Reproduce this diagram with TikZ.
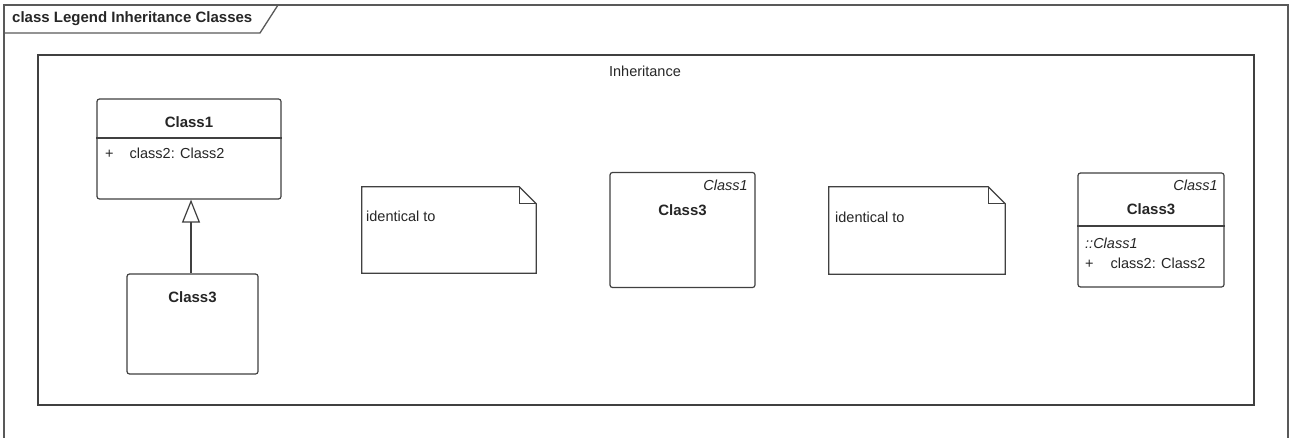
\documentclass[tikz,border=0pt]{standalone}
\usepackage{fontspec}
\setmainfont{Liberation Sans}
\usetikzlibrary{arrows.meta, positioning, calc}

\begin{document}
\begin{tikzpicture}[
    x=1pt, y=-1pt,
    line/.style={draw=black!75, line width=1.2pt},
    frame/.style={draw=black!65, line width=1.3pt},
    classbox/.style={line, rounded corners=2.5pt, fill=white, inner sep=0pt},
    notebox/.style={draw=none, inner sep=0pt},
    txt/.style={inner sep=0pt, text=black!85, font=\fontsize{14.5}{17}\selectfont},
    clsname/.style={txt, font=\fontsize{15}{17}\selectfont\bfseries},
    stereo/.style={txt, font=\fontsize{14.5}{17}\selectfont\itshape},
    gen/.style={line, -{Triangle[open, length=23pt, width=18pt]}}
]
\useasboundingbox (0,0) rectangle (1289,438);

% diagram frame
\draw[frame] (4,445) -- (4,5) -- (1288,5) -- (1288,445);
\draw[frame] (4,33) -- (260,33) -- (278,5);
\node[clsname, anchor=west] (frametitle) at (12,19) {class Legend Inheritance Classes};

% package
\node[line, fill=white, minimum width=1216, minimum height=350] (pkg) at (646,230) {};
\node[txt] (pkgname) at (645,71) {Inheritance};

% Class1 and its child
\node[classbox, minimum width=184, minimum height=100] (c1) at (189,149) {};
\node[clsname] (c1name) at (189,122) {Class1};
\draw[line] (c1.west |- 0,138) -- (c1.east |- 0,138);
\node[txt, anchor=west] (c1attr) at (105,153) {+\hspace{16pt}class2: Class2};

\node[classbox, minimum width=131, minimum height=100] (c3a) at (192.5,324) {};
\node[clsname] (c3aname) at (192.5,297) {Class3};
\draw[gen] (191,0 |- c3a.north) -- (191,0 |- c1.south);

% first note
\node[notebox, minimum width=174, minimum height=86] (n1) at (449,230) {};
\draw[line, fill=white] (n1.north west) -- ([xshift=-17pt]n1.north east) -- ([yshift=-17pt]n1.north east)
    -- (n1.south east) -- (n1.south west) -- cycle;
\draw[line] ([xshift=-17pt]n1.north east) |- ([yshift=-17pt]n1.north east);
\node[txt, anchor=west] (n1txt) at (366,216) {identical to};

% Class3 folded
\node[classbox, minimum width=145, minimum height=115] (c3b) at (682.5,230) {};
\node[stereo, anchor=east] (c3bparent) at (748,185) {Class1};
\node[clsname] (c3bname) at (682.5,210) {Class3};

% second note
\node[notebox, minimum width=176, minimum height=87] (n2) at (917,230.5) {};
\draw[line, fill=white] (n2.north west) -- ([xshift=-17pt]n2.north east) -- ([yshift=-17pt]n2.north east)
    -- (n2.south east) -- (n2.south west) -- cycle;
\draw[line] ([xshift=-17pt]n2.north east) |- ([yshift=-17pt]n2.north east);
\node[txt, anchor=west] (n2txt) at (835,217) {identical to};

% Class3 with inherited attribute
\node[classbox, minimum width=146, minimum height=114] (c3c) at (1151,230) {};
\node[stereo, anchor=east] (c3cparent) at (1218,185) {Class1};
\node[clsname] (c3cname) at (1151,209) {Class3};
\draw[line] (c3c.west |- 0,226) -- (c3c.east |- 0,226);
\node[stereo, anchor=west] (c3cinh) at (1085,243) {::Class1};
\node[txt, anchor=west] (c3cattr) at (1085,263) {+\hspace{17pt}class2: Class2};
\end{tikzpicture}
\end{document}
